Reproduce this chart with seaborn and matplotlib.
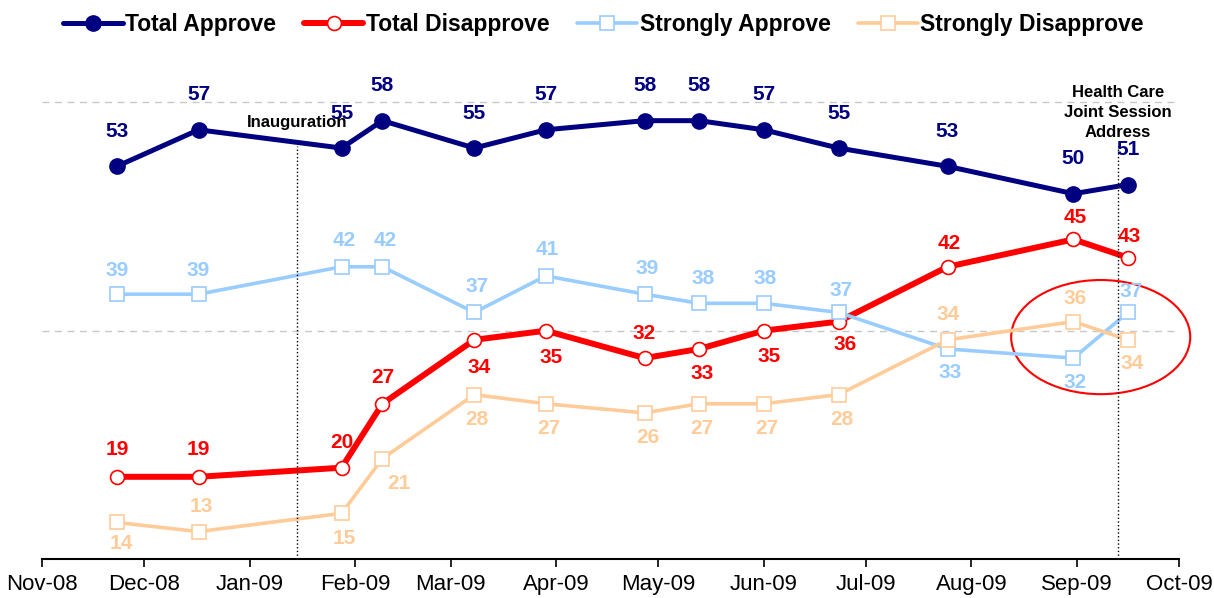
import pandas as pd
import matplotlib
matplotlib.use("Agg")
import matplotlib.pyplot as plt
import matplotlib.dates as mdates
from matplotlib.patches import Ellipse
import seaborn as sns

dates = pd.to_datetime([
    "2008-11-23", "2008-12-17", "2009-01-28", "2009-02-09", "2009-03-08",
    "2009-03-29", "2009-04-27", "2009-05-13", "2009-06-01", "2009-06-23",
    "2009-07-25", "2009-08-31", "2009-09-16",
])
total_approve = [53, 57, 55, 58, 55, 57, 58, 58, 57, 55, 53, 50, 51]
total_disapprove = [19, 19, 20, 27, 34, 35, 32, 33, 35, 36, 42, 45, 43]
strongly_approve = [39, 39, 42, 42, 37, 41, 39, 38, 38, 37, 33, 32, 37]
strongly_disapprove = [14, 13, 15, 21, 28, 27, 26, 27, 27, 28, 34, 36, 34]

# label offsets in pixels (dx, dy up)
ta_dx = [0] * 13
ta_dy = [35] * 13
td_dx = [0, 0, 0, 0, 5, 5, 0, 3, 5, 7, 2, 2, 1]
td_dy = [27, 27, 25, 26, -28, -27, 25, -25, -26, -23, 23, 22, 21]
sa_dx = [0, 0, 3, 3, 3, 1, 3, 4, 1, 2, 3, 2, 3]
sa_dy = [24, 24, 26, 26, 26, 26, 26, 25, 25, 22, -24, -24, 21]
sd_dx = [4, 3, 3, 17, 3, 3, 3, 3, 3, 3, 1, 2, 4]
sd_dy = [-21, 25, -25, -25, -25, -25, -25, -25, -25, -25, 25, 23, -24]

events = pd.to_datetime(["2009-01-15", "2009-09-13"])
event_labels = ["Inauguration", "Health Care\nJoint Session\nAddress"]

sns.set_style("white")
plt.rcParams["font.family"] = ["Liberation Sans", "DejaVu Sans"]
plt.rcParams["text.color"] = "black"
plt.rcParams["xtick.color"] = "black"

fig = plt.figure(figsize=(12.14, 5.98), dpi=100)
ax = fig.add_axes([42 / 1214, 39 / 598, 1137 / 1214, 484 / 598])

series = [
    ("Total Approve", total_approve, "#000080", "o", "#000080", 11, 3.6, 1, ta_dx, ta_dy),
    ("Total Disapprove", total_disapprove, "#FF0000", "o", "white", 10, 4.3, 1.2, td_dx, td_dy),
    ("Strongly Approve", strongly_approve, "#99CCFF", "s", "white", 10, 2.6, 1.2, sa_dx, sa_dy),
    ("Strongly Disapprove", strongly_disapprove, "#FFCC99", "s", "white", 10, 2.6, 1.2, sd_dx, sd_dy),
]

for name, vals, col, mk, fc, ms, lw, mew, dxs, dys in series:
    sns.lineplot(x=dates, y=vals, ax=ax, color=col, linewidth=lw, marker=mk,
                 markersize=ms, markerfacecolor=fc, markeredgecolor=col,
                 markeredgewidth=mew, label=name)
    for d, v, dx, dy in zip(dates, vals, dxs, dys):
        ax.annotate(str(v), (d, v), xytext=(dx, dy), textcoords="offset pixels",
                    ha="center", va="center", fontsize=15, fontweight="bold",
                    color=col)

ax.set_xlim(pd.Timestamp("2008-11-01"), pd.Timestamp("2009-10-01"))
ax.set_ylim(10, 63)
ax.set_yticks([35, 60])
ax.yaxis.grid(True, linestyle=(0, (5, 4)), color="#C8C8C8", linewidth=1)
ax.tick_params(axis="y", left=False, labelleft=False)
ax.xaxis.set_major_locator(mdates.MonthLocator())
ax.xaxis.set_major_formatter(mdates.DateFormatter("%b-%y"))
ax.tick_params(axis="x", direction="out", length=6, width=1.2, color="black",
               labelcolor="black", labelsize=16, pad=5, bottom=True)
for s in ["top", "right", "left"]:
    ax.spines[s].set_visible(False)
ax.spines["bottom"].set_color("black")
ax.spines["bottom"].set_linewidth(1.5)
ax.set_xlabel("")
ax.set_ylabel("")

ax.vlines(events[0], 10, 55.2, colors="black", linestyles=":", linewidth=1)
ax.vlines(events[1], 10, 55.2, colors="black", linestyles=":", linewidth=1)
ax.text(events[0], 57.8, event_labels[0], ha="center", va="center",
        fontsize=12, fontweight="bold", color="black")
ax.text(events[1], 58.9, event_labels[1], ha="center", va="center",
        fontsize=12, fontweight="bold", color="black", linespacing=1.4)

ell_center = mdates.date2num(pd.Timestamp("2009-09-08"))
ax.add_patch(Ellipse((ell_center, 34.3), width=52.6, height=12.5, fill=False,
                     edgecolor="#FF0000", linewidth=1.5, clip_on=False))

handles, labels = ax.get_legend_handles_labels()
ax.get_legend().remove()
leg = fig.legend(handles, labels, loc="upper center", bbox_to_anchor=(0.497, 1.012),
                 ncol=4, frameon=False, handlelength=2.6, handletextpad=0.12,
                 columnspacing=1.2, prop={"size": 16.5, "weight": "bold"})
for t in leg.get_texts():
    t.set_color("black")

fig.savefig("out.png", dpi=100)
